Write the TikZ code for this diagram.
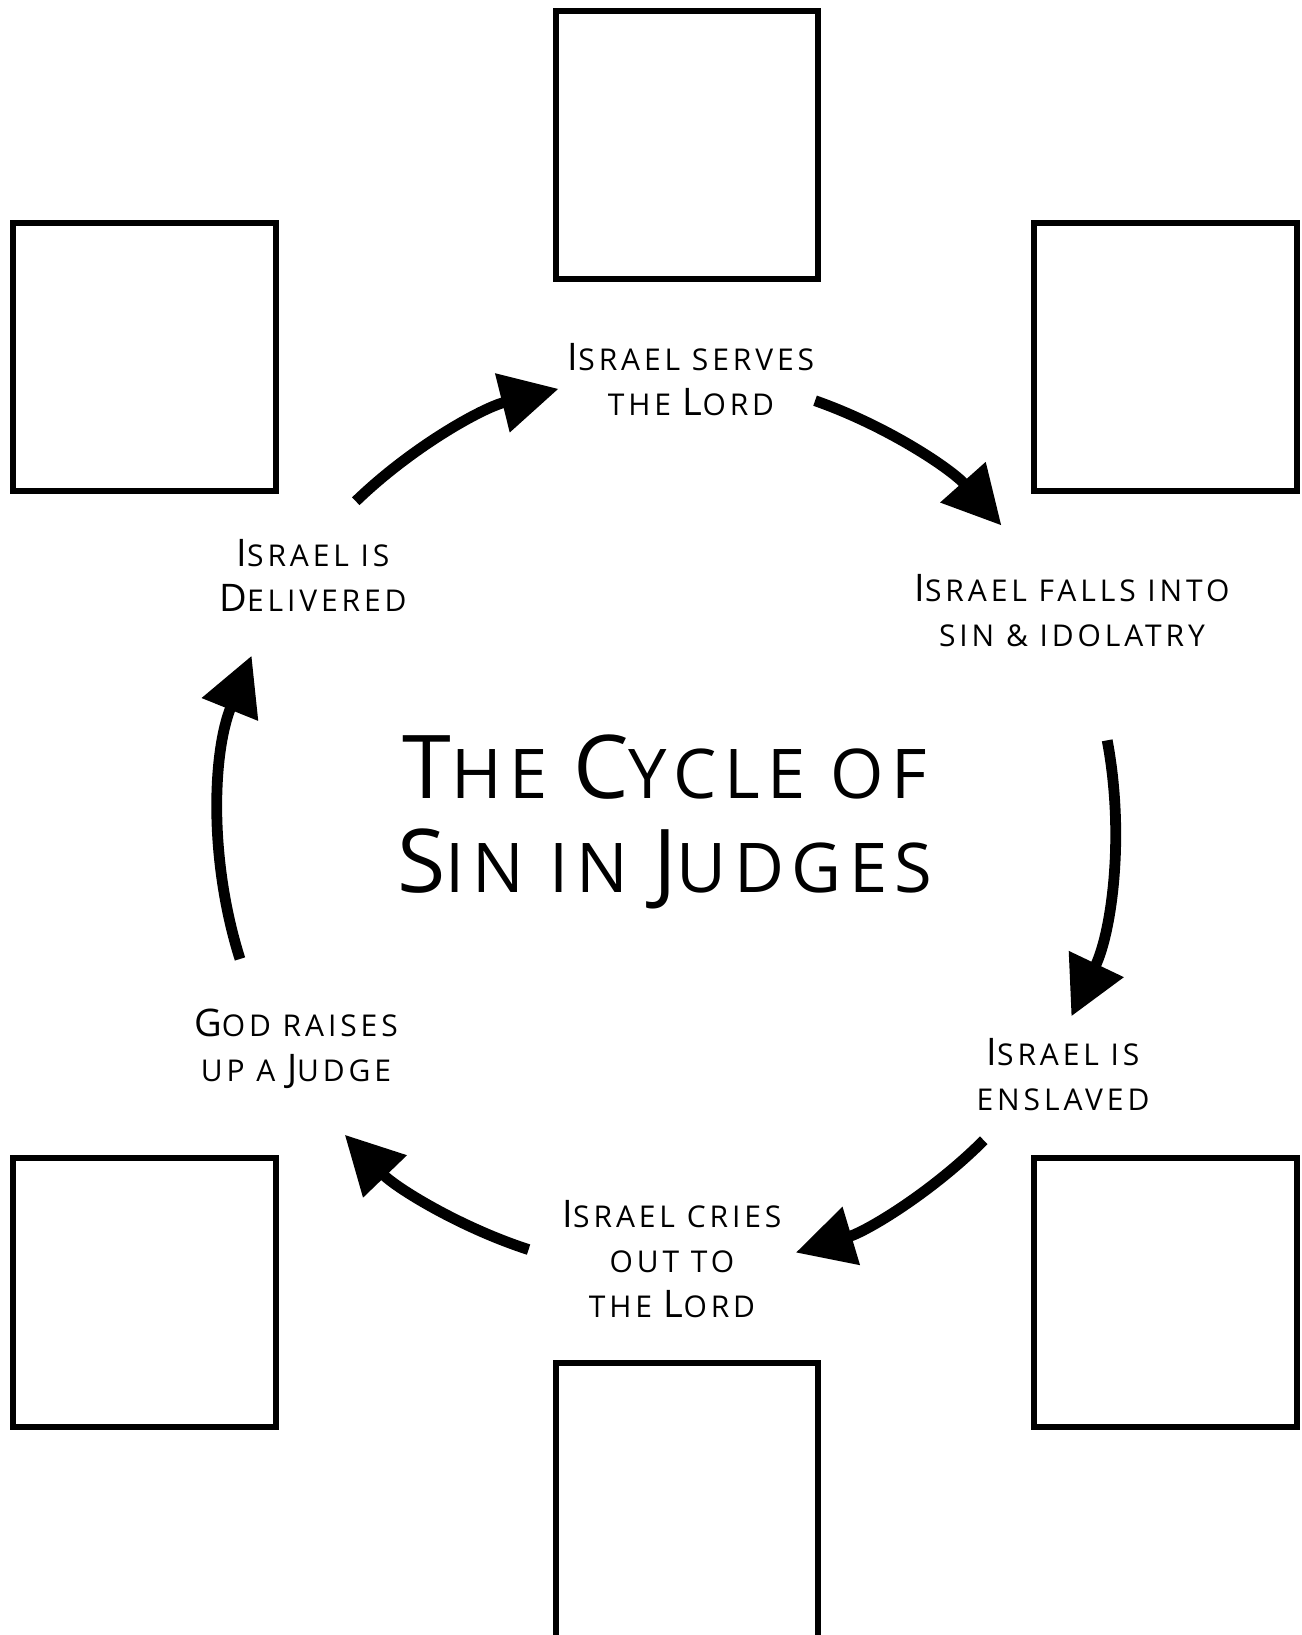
\documentclass[tikz,border=0pt]{standalone}
\usepackage{fontspec}
\usetikzlibrary{arrows.meta}
\newfontfamily\lblfont[LetterSpace=13]{Open Sans}
\newfontfamily\ttlfont[LetterSpace=11]{Open Sans}
\newcommand\Ini[1]{{\fontsize{19}{22.5}\selectfont #1}}
\newcommand\TIni[1]{{\fontsize{44}{47}\selectfont #1}}
\tikzset{
  box/.style={draw, line width=3pt},
  lab/.style={align=center, inner sep=0pt, font=\lblfont\fontsize{15}{22.5}\selectfont},
  ttl/.style={align=center, inner sep=0pt, font=\ttlfont\fontsize{34.3}{47}\selectfont},
  cyc/.style={line width=5.4pt, -{Triangle[length=29pt,width=29pt]}}
}
\begin{document}
\begin{tikzpicture}[x=0.5pt,y=-0.5pt]
\useasboundingbox (0,0) rectangle (1302,1635);
% boxes
\draw[box] (555.5,10.5) rectangle (818,278.5);
\draw[box] (12.5,222.5) rectangle (276,491);
\draw[box] (1033.5,222.5) rectangle (1297,491);
\draw[box] (12.5,1157.5) rectangle (276,1426.5);
\draw[box] (1033.5,1157.5) rectangle (1297,1426.5);
\draw[box] (555.5,1362.5) rectangle (818,1640);
% labels
\node[lab] (serve) at (691,380) {\Ini{I}SRAEL SERVES\\THE \Ini{L}ORD};
\node[lab] (deliv) at (313,575) {\Ini{I}SRAEL IS\\\Ini{D}ELIVERED};
\node[lab] (falls) at (1072,611) {\Ini{I}SRAEL FALLS INTO\\SIN \& IDOLATRY};
\node[lab] (ensl) at (1063,1075) {\Ini{I}SRAEL IS\\ENSLAVED};
\node[lab] (cries) at (672,1259) {\Ini{I}SRAEL CRIES\\OUT TO\\THE \Ini{L}ORD};
\node[lab] (judge) at (296,1049) {\Ini{G}OD RAISES\\UP A \Ini{J}UDGE};
\node[ttl] (title) at (665,822) {\TIni{T}HE \TIni{C}YCLE OF\\\TIni{S}IN IN \TIni{J}UDGES};
% cycle arrows
\coordinate (c) at (667,823.5);
\coordinate (a1) at ([shift={(-134:448)}]c);
\coordinate (a2) at ([shift={(-70.7:448)}]c);
\coordinate (a3) at ([shift={(-10.7:448)}]c);
\coordinate (a4) at ([shift={(45:448)}]c);
\coordinate (a5) at ([shift={(108:448)}]c);
\coordinate (a6) at ([shift={(-197.6:448)}]c);
\draw[cyc] (a1) arc[start angle=-134, end angle=-104, radius=448];
\draw[cyc] (a2) arc[start angle=-70.7, end angle=-41.7, radius=448];
\draw[cyc] (a3) arc[start angle=-10.7, end angle=25.5, radius=448];
\draw[cyc] (a4) arc[start angle=45, end angle=73.3, radius=448];
\draw[cyc] (a5) arc[start angle=108, end angle=136, radius=448];
\draw[cyc] (a6) arc[start angle=-197.6, end angle=-158, radius=448];
\end{tikzpicture}
\end{document}
